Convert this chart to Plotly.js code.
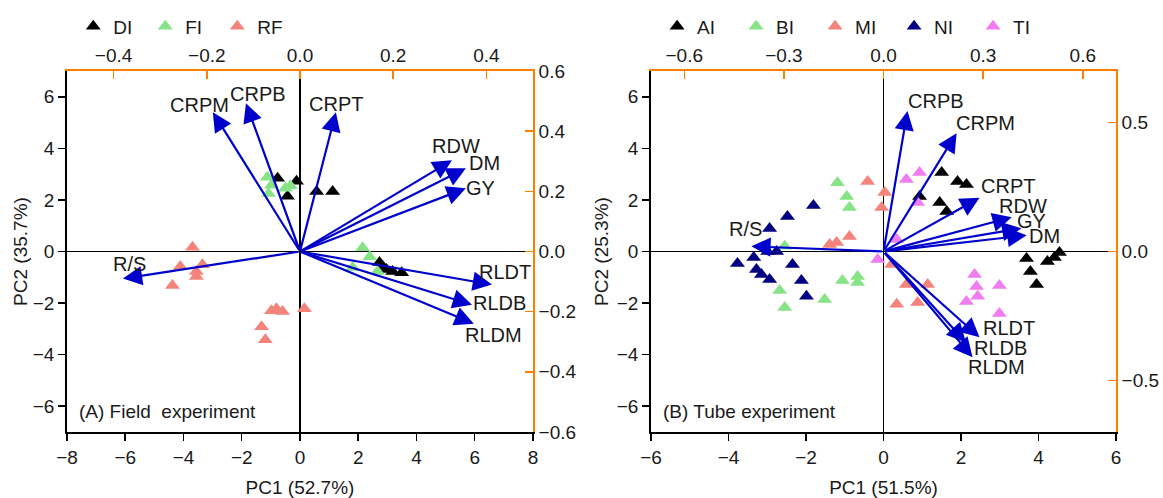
<!DOCTYPE html>
<html>
<head>
<meta charset="utf-8">
<script src="https://cdn.plot.ly/plotly-3.0.1.min.js"></script>
<style>html,body{margin:0;padding:0;background:#fff;}#chart{width:1163px;height:498px;}</style>
</head>
<body>
<div id="chart"></div>
<script>
// ---------- Panel A: Field experiment ----------
const groupsA = ['DI', 'FI', 'RF'];
const diX = [-0.77, -0.12, -0.43, 0.57, 1.12, 2.73, 2.84, 2.97, 3.18, 3.49];
const diY = [2.84, 2.72, 2.14, 2.33, 2.33, -0.43, -0.58, -0.70, -0.78, -0.82];
const fiX = [-1.12, -0.98, -1.08, -0.50, -0.33, 2.15, 2.39, 1.81, 2.66];
const fiY = [2.88, 2.57, 2.25, 2.45, 2.55, 0.15, -0.20, -0.62, -0.78];
const rfX = [-3.69, -4.11, -3.35, -3.56, -3.56, -4.38, -0.98, -0.81, -0.60, 0.15, -1.32, -1.19];
const rfY = [0.16, -0.58, -0.51, -0.97, -0.78, -1.32, -2.30, -2.22, -2.33, -2.22, -2.92, -3.42];

const varsA = ['CRPM', 'CRPB', 'CRPT', 'RDW', 'DM', 'GY', 'R/S', 'RLDT', 'RLDB', 'RLDM'];
const loadA1 = [-0.187, -0.116, 0.077, 0.326, 0.356, 0.356, -0.380, 0.412, 0.369, 0.373];
const loadA2 = [0.463, 0.493, 0.463, 0.303, 0.277, 0.210, -0.090, -0.110, -0.177, -0.240];

// ---------- Panel B: Tube experiment ----------
const groupsB = ['AI', 'BI', 'MI', 'NI', 'TI'];
const aiX = [1.50, 1.91, 2.14, 0.93, 1.45, 1.63, 3.69, 3.79, 3.95, 4.23, 4.41, 4.54];
const aiY = [3.06, 2.71, 2.60, 2.13, 1.90, 1.55, -0.27, -0.78, -1.28, -0.39, -0.23, -0.04];
const biX = [-1.19, -0.95, -0.88, -2.55, -2.68, -2.55, -1.52, -1.06, -0.67, -0.67];
const biY = [2.67, 2.13, 1.71, 0.20, -1.51, -2.17, -1.86, -1.12, -0.97, -1.20];
const miX = [-0.41, 0.03, -0.05, -0.88, -1.21, -1.39, 0.59, 1.14, 0.34, 0.88, 0.21];
const miY = [2.71, 2.29, 1.71, 0.58, 0.35, 0.27, -1.28, -1.28, -2.05, -1.98, -0.50];
const niX = [-1.81, -2.48, -2.94, -3.77, -3.35, -3.28, -3.15, -2.94, -2.99, -2.76, -2.35, -2.12, -1.99];
const niY = [1.78, 1.36, 0.89, -0.47, -0.23, -0.70, -0.89, -1.09, 0.00, 0.00, -0.50, -1.12, -1.74];
const tiX = [0.93, 0.59, 0.88, 0.34, -0.15, 2.35, 2.40, 2.43, 2.14, 2.99, 2.99];
const tiY = [3.06, 2.79, 1.90, 0.47, -0.31, -0.89, -1.36, -1.74, -1.94, -1.32, -2.40];

const varsB = ['CRPB', 'CRPM', 'CRPT', 'RDW', 'GY', 'DM', 'R/S', 'RLDT', 'RLDB', 'RLDM'];
const loadB1 = [0.072, 0.220, 0.289, 0.386, 0.415, 0.431, -0.398, 0.289, 0.248, 0.268];
const loadB2 = [0.545, 0.459, 0.208, 0.133, 0.090, 0.063, 0.020, -0.333, -0.353, -0.410];

// ---------- styling ----------
const FONT = 'Liberation Sans, Arial, sans-serif';
const TXT = '#1a1a1a';
const ORANGE = '#FF8000';
const ARROW = '#0000CD';
const COLORS = {DI: '#000000', FI: '#86E386', RF: '#F4837B',
                AI: '#000000', BI: '#86E386', MI: '#F4837B', NI: '#000080', TI: '#F07CF0'};
// label offsets (px) relative to arrow tips
const offA = {CRPM: [-13, 7], CRPB: [12, 9], CRPT: [0, 8], RDW: [4, 14], DM: [19, 5], GY: [15, 0],
              'R/S': [7, 15], RLDT: [13, 13], RLDB: [28, 2], RLDM: [20, -11]};
const offB = {CRPB: [29, 10], CRPM: [29, 10], CRPT: [28, 12], RDW: [11, 11], GY: [10, 7], DM: [18, -1],
              'R/S': [-6, 17], RLDT: [29, 9], RLDB: [35, -5], RLDM: [24, -10]};

function scoreTrace(name, xs, ys, xa, ya, leg) {
  return {type: 'scatter', mode: 'markers', name: name, x: xs, y: ys, xaxis: xa, yaxis: ya,
          legend: leg, cliponaxis: false,
          marker: {symbol: 'triangle-up', size: 13, color: COLORS[name], line: {width: 0}}};
}

const traces = [
  scoreTrace('DI', diX, diY, 'x', 'y', 'legend'),
  scoreTrace('FI', fiX, fiY, 'x', 'y', 'legend'),
  scoreTrace('RF', rfX, rfY, 'x', 'y', 'legend'),
  scoreTrace('AI', aiX, aiY, 'x3', 'y3', 'legend2'),
  scoreTrace('BI', biX, biY, 'x3', 'y3', 'legend2'),
  scoreTrace('MI', miX, miY, 'x3', 'y3', 'legend2'),
  scoreTrace('NI', niX, niY, 'x3', 'y3', 'legend2'),
  scoreTrace('TI', tiX, tiY, 'x3', 'y3', 'legend2'),
  // invisible traces to activate loading axes
  {type: 'scatter', mode: 'markers', x: [0], y: [0], xaxis: 'x2', yaxis: 'y2', showlegend: false,
   marker: {opacity: 0}, hoverinfo: 'skip'},
  {type: 'scatter', mode: 'markers', x: [0], y: [0], xaxis: 'x4', yaxis: 'y4', showlegend: false,
   marker: {opacity: 0}, hoverinfo: 'skip'}
];

const annotations = [];
function addArrows(vars, l1, l2, xr, yr, off) {
  vars.forEach((v, i) => {
    annotations.push({xref: xr, yref: yr, axref: xr, ayref: yr, x: l1[i], y: l2[i], ax: 0, ay: 0,
      text: '', showarrow: true, arrowhead: 2, arrowsize: 1.75, arrowwidth: 2.2, arrowcolor: ARROW, standoff: 0});
  });
  vars.forEach((v, i) => {
    annotations.push({xref: xr, yref: yr, x: l1[i], y: l2[i], text: v, showarrow: false,
      xshift: off[v][0], yshift: off[v][1], xanchor: 'center', yanchor: 'middle',
      font: {family: FONT, size: 20, color: TXT}});
  });
}
addArrows(varsA, loadA1, loadA2, 'x2', 'y2', offA);
addArrows(varsB, loadB1, loadB2, 'x4', 'y4', offB);
annotations.push({xref: 'x domain', yref: 'y domain', x: 0.021, y: 0.058, text: '(A) Field&nbsp; experiment',
  showarrow: false, xanchor: 'left', yanchor: 'middle', font: {family: FONT, size: 19, color: TXT}});
annotations.push({xref: 'x3 domain', yref: 'y3 domain', x: 0.021, y: 0.058, text: '(B) Tube experiment',
  showarrow: false, xanchor: 'left', yanchor: 'middle', font: {family: FONT, size: 19, color: TXT}});

const tickFont = {family: FONT, size: 19, color: TXT};
const titleFont = {family: FONT, size: 19, color: TXT};
function primX(domain, range, title, anchor) {
  return {domain: domain, range: range, anchor: anchor, side: 'bottom', dtick: 2, tick0: 0,
    ticks: 'outside', ticklen: 7, tickwidth: 1.5, tickcolor: '#000', showline: true, linecolor: '#000', linewidth: 1.8,
    showgrid: false, zeroline: true, zerolinecolor: '#000', zerolinewidth: 1.8, tickfont: tickFont,
    automargin: false, title: {text: title, font: titleFont, standoff: 14}, fixedrange: true};
}
function primY(title, anchor, standoff) {
  return {domain: [0, 1], range: [-7, 7], anchor: anchor, tickvals: [-6, -4, -2, 0, 2, 4, 6],
    ticks: 'outside', ticklen: 7, tickwidth: 1.5, tickcolor: '#000', showline: true, linecolor: '#000', linewidth: 1.8,
    showgrid: false, zeroline: true, zerolinecolor: '#000', zerolinewidth: 1.8, tickfont: tickFont,
    automargin: false, title: {text: title, font: titleFont, standoff: standoff}, fixedrange: true};
}
function secX(over, anchor, range, vals) {
  return {overlaying: over, anchor: anchor, side: 'top', range: range, tickvals: vals, tickformat: '.1f',
    ticks: 'inside', ticklen: 8, tickwidth: 1.5, tickcolor: ORANGE, showline: true, linecolor: ORANGE, linewidth: 1.8,
    showgrid: false, zeroline: false, tickfont: tickFont, automargin: false, fixedrange: true};
}
function secY(over, anchor, range, vals) {
  return {overlaying: over, anchor: anchor, side: 'right', range: range, tickvals: vals, tickformat: '.1f',
    ticks: 'inside', ticklen: 8, tickwidth: 1.5, tickcolor: ORANGE, showline: true, linecolor: ORANGE, linewidth: 1.8,
    showgrid: false, zeroline: false, tickfont: tickFont, automargin: false, fixedrange: true};
}

const layout = {
  width: 1163, height: 498,
  margin: {l: 0, r: 0, t: 71, b: 66},
  paper_bgcolor: '#fff', plot_bgcolor: '#fff',
  font: {family: FONT, color: TXT},
  xaxis: primX([0.0576, 0.4583], [-8, 8], 'PC1 (52.7%)', 'y'),
  yaxis: primY('PC2 (35.7%)', 'x', 0),
  xaxis2: secX('x', 'y', [-0.5, 0.5], [-0.4, -0.2, 0, 0.2, 0.4]),
  yaxis2: secY('y', 'x', [-0.6, 0.6], [-0.6, -0.4, -0.2, 0, 0.2, 0.4, 0.6]),
  xaxis3: primX([0.5598, 0.9596], [-6, 6], 'PC1 (51.5%)', 'y3'),
  yaxis3: primY('PC2 (25.3%)', 'x3', 3),
  xaxis4: secX('x3', 'y3', [-0.7, 0.7], [-0.6, -0.3, 0, 0.3, 0.6]),
  yaxis4: secY('y3', 'x3', [-0.7, 0.7], [-0.5, 0, 0.5]),
  legend: {orientation: 'h', xref: 'container', yref: 'container', x: 0.063, y: 0.985, xanchor: 'left', yanchor: 'top',
    entrywidth: 27, entrywidthmode: 'pixels', font: {family: FONT, size: 19, color: TXT}, bgcolor: 'rgba(0,0,0,0)'},
  legend2: {orientation: 'h', xref: 'container', yref: 'container', x: 0.565, y: 0.985, xanchor: 'left', yanchor: 'top',
    entrywidth: 34, entrywidthmode: 'pixels', font: {family: FONT, size: 19, color: TXT}, bgcolor: 'rgba(0,0,0,0)'},
  showlegend: true,
  annotations: annotations
};

Plotly.newPlot('chart', traces, layout, {displayModeBar: false, staticPlot: true});
</script>
</body>
</html>
